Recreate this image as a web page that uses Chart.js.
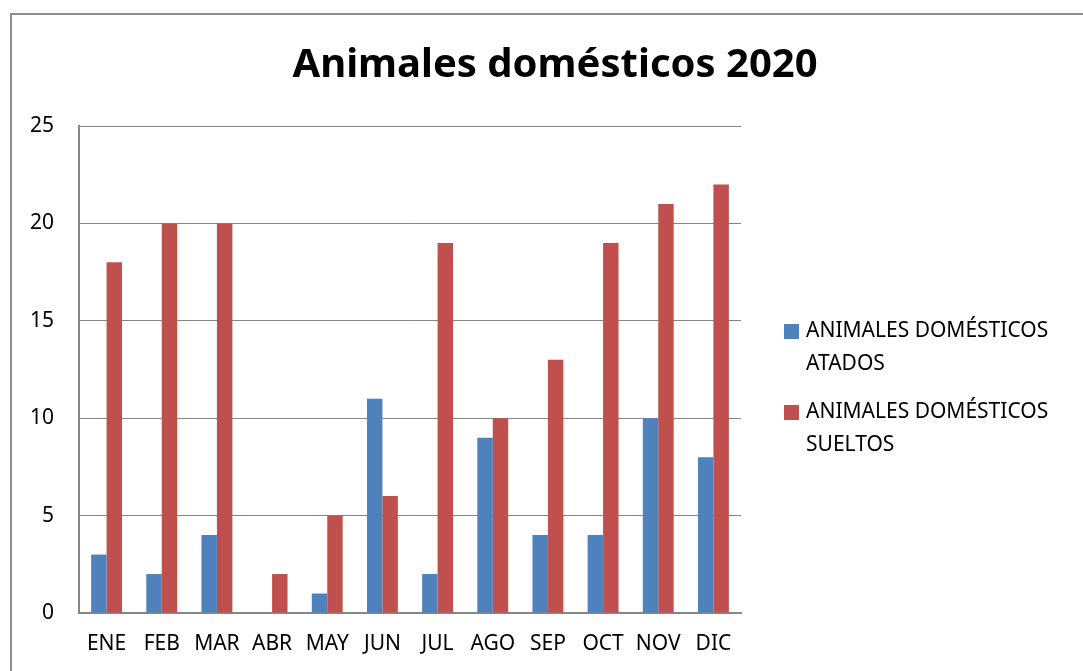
<!DOCTYPE html>
<html>
<head>
<meta charset="utf-8">
<script src="https://cdn.jsdelivr.net/npm/chart.js@4"></script>
<style>
    body { margin: 0; background: #fff; overflow: hidden; }
    #frame { position: absolute; left: 10px; top: 13px; width: 1100px; height: 700px; border: 2px solid #8c8c8c; }
    #wrap { position: absolute; left: 0; top: 0; width: 1083px; height: 671px; }
</style>
</head>
<body>
<div id="frame"></div>
<div id="wrap"><canvas id="chart" width="1083" height="671"></canvas></div>
<script>
const titleText = 'Animales domésticos 2020';
const months = ['ENE', 'FEB', 'MAR', 'ABR', 'MAY', 'JUN', 'JUL', 'AGO', 'SEP', 'OCT', 'NOV', 'DIC'];
const atados = [3, 2, 4, 0, 1, 11, 2, 9, 4, 4, 10, 8];
const sueltos = [18, 20, 20, 2, 5, 6, 19, 10, 13, 19, 21, 22];
const seriesNames = [['ANIMALES DOMÉSTICOS', 'ATADOS'], ['ANIMALES DOMÉSTICOS', 'SUELTOS']];

const fontFamily = "'Noto Sans', 'Open Sans', sans-serif";

// title and legend drawn by hand so the title centres on the whole frame
const frameText = {
    id: 'frameText',
    afterDraw(chart) {
        const c = chart.ctx;
        c.save();
        c.fillStyle = '#000';
        c.font = "bold 40px " + fontFamily;
        c.textAlign = 'center';
        c.textBaseline = 'middle';
        c.fillText(titleText, 555, 66);

        c.font = "21px " + fontFamily;
        c.textAlign = 'left';
        chart.data.datasets.forEach(function(ds, i) {
            const y0 = 331 + i * 81;
            c.fillStyle = ds.backgroundColor;
            c.fillRect(784, y0 - 7, 15, 15);
            c.fillStyle = '#000';
            ds.label.forEach(function(line, j) {
                c.fillText(line, 806, y0 + j * 33);
            });
        });
        c.restore();
    }
};

new Chart(document.getElementById('chart').getContext('2d'), {
    type: 'bar',
    data: {
        labels: months,
        datasets: [{
            label: seriesNames[0],
            data: atados,
            backgroundColor: '#4F81BD',
            categoryPercentage: 0.56,
            barPercentage: 1.0
        }, {
            label: seriesNames[1],
            data: sueltos,
            backgroundColor: '#C0504D',
            categoryPercentage: 0.56,
            barPercentage: 1.0
        }]
    },
    options: {
        responsive: false,
        animation: false,
        layout: { padding: { top: 126, right: 342, left: 0, bottom: 0 } },
        plugins: {
            legend: { display: false },
            title: { display: false },
            tooltip: { enabled: false }
        },
        scales: {
            x: {
                grid: { display: false, drawTicks: false },
                border: { color: '#868686', width: 2 },
                ticks: { color: '#000', font: { family: fontFamily, size: 21 }, padding: 18, maxRotation: 0, autoSkip: false },
                afterFit: function(scale) { scale.height = 58; }
            },
            y: {
                min: 0,
                max: 25,
                grid: { color: '#868686', lineWidth: 1, drawTicks: false },
                border: { color: '#868686', width: 2 },
                ticks: { stepSize: 5, color: '#000', font: { family: fontFamily, size: 21 }, padding: 25 },
                afterFit: function(scale) { scale.width = 79; }
            }
        }
    },
    plugins: [frameText]
});
</script>
</body>
</html>
